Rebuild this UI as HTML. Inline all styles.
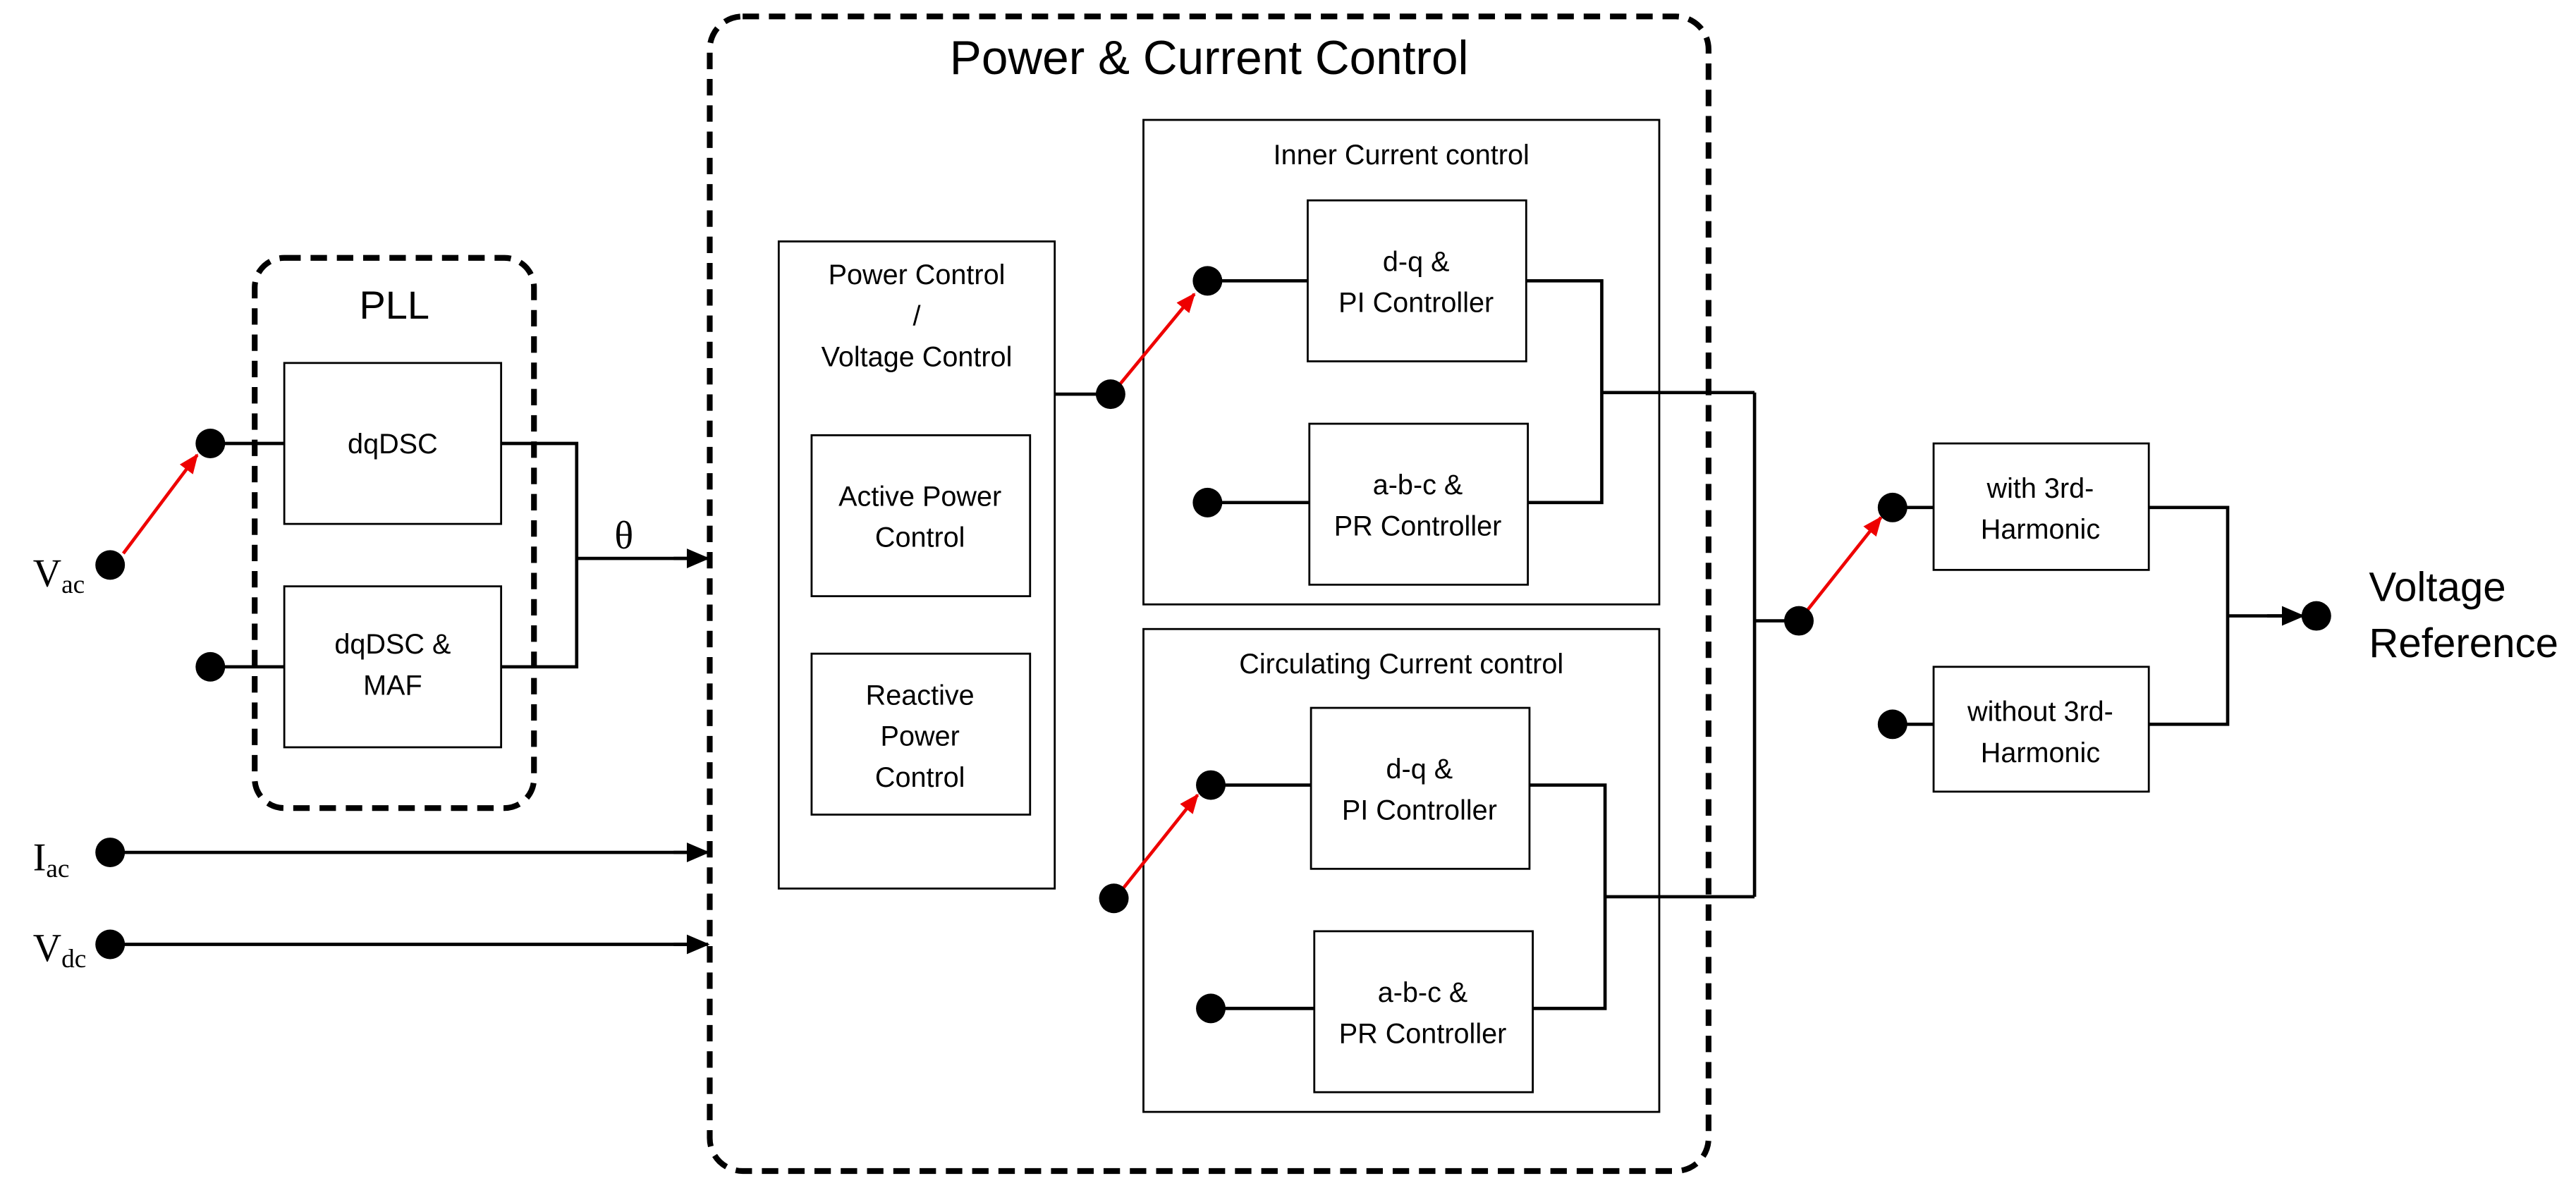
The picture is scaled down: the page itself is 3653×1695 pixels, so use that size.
<!DOCTYPE html>
<html><head><meta charset="utf-8"><style>html,body{margin:0;padding:0;background:#fff}svg{display:block}</style></head>
<body>
<svg width="3653" height="1695" viewBox="0 0 1568 727.6" xmlns="http://www.w3.org/2000/svg">
<defs>
<marker id="ab" markerWidth="14" markerHeight="12" refX="13" refY="6" orient="auto" markerUnits="userSpaceOnUse"><path d="M0,0 L14,6 L0,12 z" fill="#000"/></marker>
<marker id="ar" markerWidth="12" markerHeight="10" refX="11" refY="5" orient="auto" markerUnits="userSpaceOnUse"><path d="M0,0 L12,5 L0,10 z" fill="#e00"/></marker>
</defs>
<g font-family="'Liberation Sans', sans-serif" fill="#000">
<rect x="155" y="157" width="170" height="335" rx="18" fill="none" stroke="#000" stroke-width="3.5" stroke-dasharray="10,6"/>
<rect x="432" y="10" width="608" height="703" rx="20" fill="none" stroke="#000" stroke-width="3.5" stroke-dasharray="10,6"/>
<text x="240" y="194" font-size="24" text-anchor="middle">PLL</text>
<text x="736" y="45" font-size="29" text-anchor="middle">Power &amp; Current Control</text>

<g fill="none" stroke="#000" stroke-width="1.2">
<rect x="173" y="221" width="132" height="98"/>
<rect x="173" y="357" width="132" height="98"/>
<rect x="474" y="147" width="168" height="394"/>
<rect x="494" y="265" width="133" height="98"/>
<rect x="494" y="398" width="133" height="98"/>
<rect x="696" y="73" width="314" height="295"/>
<rect x="796" y="122" width="133" height="98"/>
<rect x="797" y="258" width="133" height="98"/>
<rect x="696" y="383" width="314" height="294"/>
<rect x="798" y="431" width="133" height="98"/>
<rect x="800" y="567" width="133" height="98"/>
<rect x="1177" y="270" width="131" height="77"/>
<rect x="1177" y="406" width="131" height="76"/>
</g>

<g fill="none" stroke="#000" stroke-width="2">
<path d="M128,270H173M305,270H351V406H305M351,340H420" />
<path d="M128,406H173"/>
<path d="M67,519H420M67,575H420"/>
<path d="M642,240H676"/>
<path d="M735,171H796M735,306H797M929,171H975V306H930M975,239H1068"/>
<path d="M737,478H798M737,614H800M931,478H977V614H933M977,546H1068"/>
<path d="M1068,239V546M1068,378H1095"/>
<path d="M1152,309H1177M1152,441H1177M1308,309H1356V441H1308M1356,375H1390"/>
</g>
<g stroke="#000" stroke-width="2" fill="none">
<path d="M410,340H431" marker-end="url(#ab)"/>
<path d="M410,519H431" marker-end="url(#ab)"/>
<path d="M410,575H431" marker-end="url(#ab)"/>
<path d="M1380,375H1402" marker-end="url(#ab)"/>
</g>
<g stroke="#e00" stroke-width="2" fill="none">
<path d="M75,337L120,277" marker-end="url(#ar)"/>
<path d="M680,236L727,179" marker-end="url(#ar)"/>
<path d="M682,543L729,484" marker-end="url(#ar)"/>
<path d="M1099,373L1145,315" marker-end="url(#ar)"/>
</g>
<g fill="#000">
<circle cx="128" cy="270" r="9"/><circle cx="67" cy="344" r="9"/><circle cx="128" cy="406" r="9"/>
<circle cx="67" cy="519" r="9"/><circle cx="67" cy="575" r="9"/>
<circle cx="676" cy="240" r="9"/><circle cx="735" cy="171" r="9"/><circle cx="735" cy="306" r="9"/>
<circle cx="737" cy="478" r="9"/><circle cx="678" cy="547" r="9"/><circle cx="737" cy="614" r="9"/>
<circle cx="1095" cy="378" r="9"/><circle cx="1152" cy="309" r="9"/><circle cx="1152" cy="441" r="9"/>
<circle cx="1410" cy="375" r="9"/>
</g>

<g font-size="17" text-anchor="middle">
<text x="239" y="276">dqDSC</text>
<text x="239" y="398">dqDSC &amp;</text><text x="239" y="423">MAF</text>
<text x="558" y="173">Power Control</text><text x="558" y="198">/</text><text x="558" y="223">Voltage Control</text>
<text x="560" y="308">Active Power</text><text x="560" y="333">Control</text>
<text x="560" y="429">Reactive</text><text x="560" y="454">Power</text><text x="560" y="479">Control</text>
<text x="853" y="100">Inner Current control</text>
<text x="862" y="165">d-q &amp;</text><text x="862" y="190">PI Controller</text>
<text x="863" y="301">a-b-c &amp;</text><text x="863" y="326">PR Controller</text>
<text x="853" y="410">Circulating Current control</text>
<text x="864" y="474">d-q &amp;</text><text x="864" y="499">PI Controller</text>
<text x="866" y="610">a-b-c &amp;</text><text x="866" y="635">PR Controller</text>
<text x="1242" y="303">with 3rd-</text><text x="1242" y="328">Harmonic</text>
<text x="1242" y="439">without 3rd-</text><text x="1242" y="464">Harmonic</text>
</g>
<text x="1442" y="366" font-size="25">Voltage</text>
<text x="1442" y="400" font-size="25">Reference</text>
<g font-family="'Liberation Serif', serif" font-size="24">
<text x="374" y="334">θ</text>
<text x="20" y="357">V<tspan font-size="16" dy="4">ac</tspan></text>
<text x="20" y="530">I<tspan font-size="16" dy="4">ac</tspan></text>
<text x="20" y="585">V<tspan font-size="16" dy="4">dc</tspan></text>
</g>
</g>
</svg>
</body></html>
